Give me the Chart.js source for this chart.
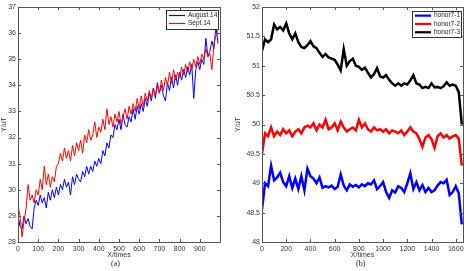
<!DOCTYPE html>
<html lang="en">
<head>
  <meta charset="UTF-8" />
  <title>Y/uT vs X/times</title>
  <script src="https://cdn.jsdelivr.net/npm/chart.js"></script>
  <style>
    body { margin: 0; background: #fff; width: 469px; height: 271px; position: relative; overflow: hidden; }
    .box { position: absolute; top: 0; height: 271px; }
    .cap { position: absolute; top: 259px; font: 8px "Liberation Serif", serif; color: #222; }
  </style>
</head>
<body>
  <div class="box" style="left:0;width:234px"><canvas id="chartA" width="234" height="271"></canvas></div>
  <div class="box" style="left:234px;width:235px"><canvas id="chartB" width="235" height="271"></canvas></div>
  <div class="cap" style="left:111px">(a)</div>
  <div class="cap" style="left:356px">(b)</div>

  <script>
    // (a) sampled every 10 X/times
    const stepA = 10;
    const augY = [
      29.0, 28.6, 28.5, 29.0, 28.7, 28.9, 28.6, 28.5, 29.3, 29.6,
      29.4, 29.8, 29.5, 29.7, 29.3, 29.9, 29.6, 30.0, 29.7, 30.1,
      29.8, 30.2, 30.0, 30.4, 30.1, 30.3, 29.8, 30.5, 30.2, 30.6,
      30.4, 30.3, 30.7, 30.5, 30.9, 30.6, 30.9, 30.7, 31.1, 30.9,
      31.2, 31.0, 31.5, 31.3, 31.8, 31.6, 32.1, 32.0, 32.5, 32.3,
      32.7, 32.3, 32.9, 32.5, 32.4, 32.8, 32.6, 33.1, 32.7, 33.2,
      32.9, 33.3, 33.0, 33.5, 33.2, 33.7, 33.4, 33.9, 33.5, 34.1,
      33.7, 34.0, 33.6, 33.4, 34.1, 33.8, 34.3, 33.9, 34.4, 34.0,
      34.5, 34.2, 34.6, 34.3, 34.7, 34.4, 34.8, 33.5, 34.6, 34.9,
      34.6, 35.0, 34.8, 35.8, 35.1, 35.3, 35.7, 35.4, 36.3, 35.6
    ];
    const septY = [
      29.4, 29.0, 28.2, 28.8, 29.3, 30.2, 29.6, 29.8, 29.5, 30.0,
      29.8, 30.4, 30.0, 30.9, 30.2, 30.6, 30.1, 30.5, 30.3, 30.9,
      31.0, 31.4, 31.1, 31.6, 31.2, 31.5, 31.1, 31.7, 31.3, 31.8,
      31.5, 31.9, 31.4, 32.1, 31.8, 32.3, 31.9, 32.1, 32.6, 32.0,
      32.4, 32.2, 32.7, 32.3, 33.1, 32.5, 32.8, 32.4, 32.9, 32.6,
      33.0, 32.5, 32.8, 33.1, 32.7, 33.2, 32.9, 33.3, 33.0, 33.5,
      33.1, 33.6, 33.2, 33.7, 33.4, 33.8, 33.5, 33.9, 33.6, 34.0,
      33.7, 34.2, 33.8, 34.3, 34.0, 34.5, 34.1, 34.6, 34.2, 34.5,
      34.3, 34.7, 34.4, 34.8, 34.5, 34.9, 34.6, 35.0, 34.7, 35.1,
      34.8, 35.2, 35.0, 35.4, 35.1, 35.2, 34.6, 35.6, 35.9, 36.1
    ];

    // (b) sampled every 25 X/times
    const stepB = 25;
    const honor1 = [
      48.55, 49.00, 48.95, 49.30, 49.05, 49.10, 49.18, 49.02, 48.95, 49.12,
      48.92, 49.08, 48.90, 49.12, 48.88, 49.25, 49.12, 49.08, 49.00, 49.10,
      48.92, 48.95, 48.93, 48.96, 48.90, 48.94, 49.15, 48.96, 48.88, 48.98,
      48.94, 48.97, 48.93, 48.98, 48.95, 49.00, 48.98, 49.05, 48.90, 48.95,
      49.02, 48.85, 48.75, 48.88, 48.84, 48.95, 48.92, 48.85, 49.00, 49.17,
      48.90, 49.02, 48.88, 48.97, 48.85, 48.92, 48.85, 48.88, 48.96, 49.02,
      49.00, 49.06, 48.80, 48.85, 48.95, 48.83, 48.30
    ];
    const honor2 = [
      49.50, 49.85, 49.80, 49.95, 49.80, 49.88, 49.82, 49.92, 49.85, 49.90,
      49.80, 49.88, 49.92, 49.85, 49.95, 49.98, 49.95, 50.02, 49.90, 50.00,
      49.95, 50.08, 49.92, 49.95, 50.02, 49.90, 50.05, 49.95, 49.88, 49.92,
      49.95, 49.90, 50.08, 49.95, 50.02, 49.92, 49.88, 49.95, 49.90, 49.92,
      49.88, 49.92, 49.85, 49.90, 49.88, 49.85, 49.90, 49.82, 49.88, 49.95,
      49.88, 49.85, 49.75, 49.62, 49.78, 49.82, 49.75, 49.60, 49.80, 49.85,
      49.78, 49.82, 49.76, 49.80, 49.82, 49.76, 49.30
    ];
    const honor3 = [
      51.25, 51.45, 51.40, 51.45, 51.70, 51.62, 51.66, 51.60, 51.72, 51.55,
      51.45, 51.55, 51.40, 51.32, 51.30, 51.35, 51.42, 51.33, 51.30, 51.22,
      51.15, 51.20, 51.14, 51.12, 51.10, 51.02, 50.92, 51.28, 51.00, 51.08,
      51.12, 51.00, 50.98, 50.93, 50.97, 50.88, 50.80, 50.86, 50.96, 50.82,
      50.80, 50.84, 50.76, 50.70, 50.66, 50.70, 50.66, 50.70, 50.68, 50.75,
      50.84, 50.70, 50.68, 50.62, 50.64, 50.62, 50.70, 50.63, 50.64, 50.62,
      50.65, 50.72, 50.66, 50.68, 50.66, 50.55, 50.00
    ];

    const pts = (ys, step) => ys.map((v, i) => ({ x: i * step, y: v }));

    const FONT = 'Liberation Sans';
    const tickFont = { family: FONT, size: 7 };

    // box frame, inward ticks and boxed legend, MATLAB style
    const matlabFrame = {
      id: 'matlabFrame',
      afterDatasetsDraw(chart, args, opts) {
        const { ctx, chartArea: a, scales: { x, y } } = chart;
        ctx.save();
        ctx.strokeStyle = '#555';
        ctx.lineWidth = 1;
        ctx.beginPath();
        x.ticks.forEach(t => {
          const px = Math.round(x.getPixelForValue(t.value)) + 0.5;
          ctx.moveTo(px, a.bottom); ctx.lineTo(px, a.bottom - 3);
          ctx.moveTo(px, a.top); ctx.lineTo(px, a.top + 3);
        });
        y.ticks.forEach(t => {
          const py = Math.round(y.getPixelForValue(t.value)) + 0.5;
          ctx.moveTo(a.left, py); ctx.lineTo(a.left + 3, py);
          ctx.moveTo(a.right, py); ctx.lineTo(a.right - 3, py);
        });
        ctx.stroke();
        ctx.strokeRect(Math.round(a.left) + 0.5, Math.round(a.top) + 0.5,
          Math.round(a.right - a.left), Math.round(a.bottom - a.top));

        // legend
        const L = opts.legend;
        ctx.fillStyle = '#fff';
        ctx.fillRect(L.left, L.top, L.width, L.height);
        ctx.strokeStyle = '#333';
        ctx.strokeRect(L.left + 0.5, L.top + 0.5, L.width, L.height);
        ctx.font = '6.5px ' + FONT;
        ctx.textBaseline = 'middle';
        chart.data.datasets.forEach((ds, i) => {
          const cy = L.top + L.pad + L.rowH * (i + 0.5);
          ctx.strokeStyle = ds.borderColor;
          ctx.lineWidth = L.lineW;
          ctx.beginPath();
          ctx.moveTo(L.left + 3, cy); ctx.lineTo(L.left + 19, cy);
          ctx.stroke();
          ctx.fillStyle = '#222';
          ctx.fillText(ds.label, L.left + 22, cy);
        });
        ctx.restore();
      }
    };

    function makeOptions(xMax, xStep, yMin, yMax, yStep, yWidth, padRight, legend) {
      return {
        responsive: false,
        animation: false,
        layout: { padding: { left: 0, top: 7, right: padRight, bottom: 12 } },
        elements: { point: { radius: 0 }, line: { tension: 0 } },
        plugins: {
          legend: { display: false },
          tooltip: { enabled: false },
          matlabFrame: { legend }
        },
        scales: {
          x: {
            type: 'linear', min: 0, max: xMax,
            grid: { display: false, drawTicks: false }, border: { display: false },
            ticks: {
              stepSize: xStep, includeBounds: false, font: tickFont, color: '#333', padding: 3, maxRotation: 0,
              callback: v => (v % xStep === 0 && v < xMax ? String(v) : null)
            },
            title: { display: true, text: 'X/times', font: tickFont, color: '#333', padding: 0 },
            afterFit: s => { s.height = 17; }
          },
          y: {
            min: yMin, max: yMax,
            grid: { display: false, drawTicks: false }, border: { display: false },
            ticks: { stepSize: yStep, font: tickFont, color: '#333', padding: 2, callback: v => String(v) },
            title: { display: true, text: 'Y/uT', font: tickFont, color: '#333', padding: 0 },
            afterFit: s => { s.width = yWidth; }
          }
        }
      };
    }

    new Chart(document.getElementById('chartA'), {
      type: 'line',
      data: {
        datasets: [
          { label: 'August.14', data: pts(augY, stepA), borderColor: '#0000ff', borderWidth: 1, order: 1 },
          { label: 'Sept.14', data: pts(septY, stepA), borderColor: '#ff0000', borderWidth: 1, order: 0 }
        ]
      },
      options: makeOptions(1000, 100, 28, 37, 1, 18, 14,
        { left: 166, top: 10, width: 52, height: 19, pad: 1.5, rowH: 8, lineW: 1.2 }),
      plugins: [matlabFrame]
    });

    new Chart(document.getElementById('chartB'), {
      type: 'line',
      data: {
        datasets: [
          { label: 'honor7-1', data: pts(honor1, stepB), borderColor: '#0000ff', borderWidth: 2.5 },
          { label: 'honor7-2', data: pts(honor2, stepB), borderColor: '#ff0000', borderWidth: 2.5 },
          { label: 'honor7-3', data: pts(honor3, stepB), borderColor: '#000000', borderWidth: 2.5 }
        ]
      },
      options: makeOptions(1660, 200, 48, 52, 0.5, 28, 6,
        { left: 178, top: 11, width: 49, height: 26, pad: 0.5, rowH: 8.3, lineW: 2.2 }),
      plugins: [matlabFrame]
    });
  </script>
</body>
</html>
